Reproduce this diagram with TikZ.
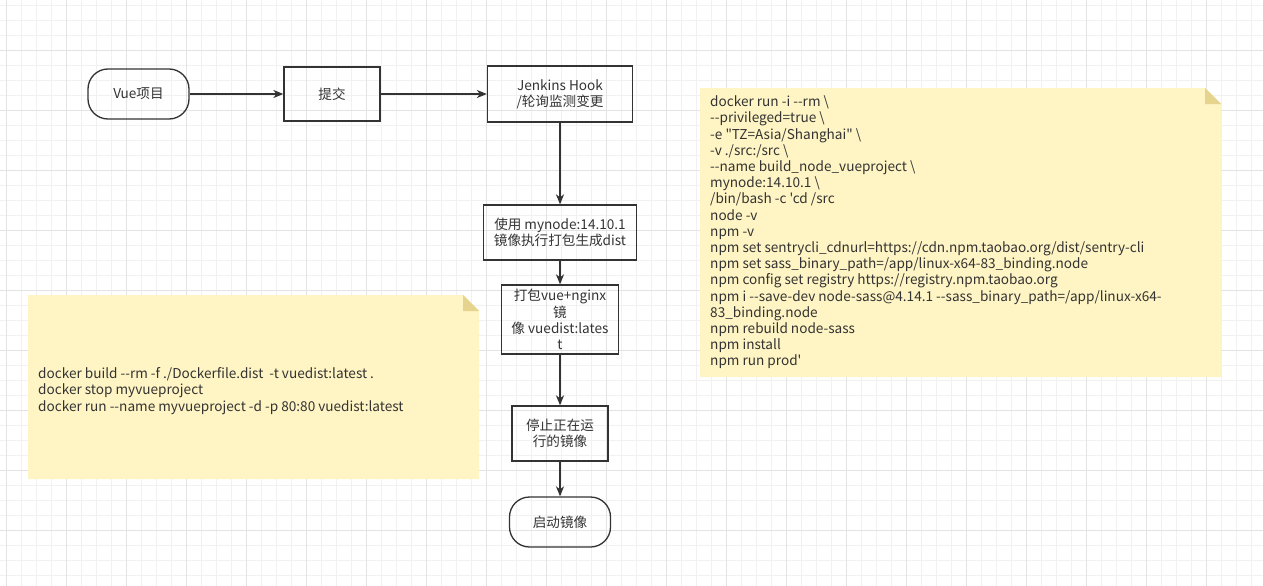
\documentclass[tikz,border=0pt]{standalone}
\usepackage{fontspec}
\setmainfont{Noto Sans CJK SC}[Ligatures=TeXOff]
\usetikzlibrary{positioning}
\usetikzlibrary{arrows.meta}
\definecolor{gridminor}{HTML}{F1F1F1}
\definecolor{gridmajor}{HTML}{E3E3E3}
\definecolor{notefill}{HTML}{FFF4C3}
\definecolor{notefold}{HTML}{E6D38E}
\definecolor{inkgray}{HTML}{333333}
\tikzstyle{line} = [draw=inkgray, line width=1.3pt, -{Stealth[length=10pt,width=8pt,inset=3pt]}]
\newcommand{\bsl}{\textbackslash}

\begin{document}
\begin{tikzpicture}[x=1pt, y=-1pt,
	every node/.style={font=\fontsize{13.6}{16.2}\selectfont, text=inkgray},
	box/.style={draw=inkgray, line width=1.3pt, rectangle, align=center, inner sep=0pt},
	term/.style={box, rounded corners=20pt},
	notetext/.style={align=left, anchor=west, inner sep=0pt}]
	\useasboundingbox (0,0) rectangle (1263,586);
	%% Grid
	\fill[white] (0,0) rectangle (1263,586);
	\foreach \gx in {0,...,84} \draw[gridminor, line width=0.8pt] (6.7+15*\gx,0) -- (6.7+15*\gx,586);
	\foreach \gy in {0,...,39} \draw[gridminor, line width=0.8pt] (0,5+15*\gy) -- (1263,5+15*\gy);
	\foreach \gx in {0,...,21} \draw[gridmajor, line width=0.8pt] (6.7+60*\gx,0) -- (6.7+60*\gx,586);
	\foreach \gy in {0,...,9} \draw[gridmajor, line width=0.8pt] (0,-10+60*\gy) -- (1263,-10+60*\gy);
	%% Notes
	\fill[notefill] (700,88) -- (1205,88) -- (1221,104) -- (1221,377) -- (700,377) -- cycle;
	\fill[notefold] (1205,88) -- (1221,104) -- (1205,104) -- cycle;
	\fill[notefill] (28,295) -- (463,295) -- (479,311) -- (479,479) -- (28,479) -- cycle;
	\fill[notefold] (463,295) -- (479,311) -- (463,311) -- cycle;
	\node [notetext] at (710,232.5) (RunNote) {docker run -i --rm \bsl\\
		--privileged=true \bsl\\
		-e "TZ=Asia/Shanghai" \bsl\\
		-v ./src:/src \bsl\\
		--name build\_node\_vueproject \bsl\\
		mynode:14.10.1 \bsl\\
		/bin/bash -c 'cd /src\\
		node -v\\
		npm -v\\
		npm set sentrycli\_cdnurl=https://cdn.npm.taobao.org/dist/sentry-cli\\
		npm set sass\_binary\_path=/app/linux-x64-83\_binding.node\\
		npm config set registry https://registry.npm.taobao.org\\
		npm i --save-dev node-sass@4.14.1 --sass\_binary\_path=/app/linux-x64-\\
		83\_binding.node\\
		npm rebuild node-sass\\
		npm install\\
		npm run prod'};
	\node [notetext] at (38,391) (DeployNote) {docker build --rm -f ./Dockerfile.dist \ -t vuedist:latest .\\
		docker stop myvueproject\\
		docker run --name myvueproject -d -p 80:80 vuedist:latest};
	%% Steps
	\node [term, minimum width=101pt, minimum height=50pt] at (138.5,94) (Vue) {Vue项目};
	\node [box, minimum width=96pt, minimum height=54pt] at (332,94) (Commit) {提交};
	\node [box, minimum width=145pt, minimum height=56pt] at (560,94) (Hook) {Jenkins Hook\\/轮询监测变更};
	\node [box, minimum width=153pt, minimum height=55pt] at (560,232.5) (Build) {使用 mynode:14.10.1\\镜像执行打包生成dist};
	\node [box, minimum width=117pt, minimum height=69pt] at (560,319.5) (Image) {打包vue+nginx\\镜\\像 vuedist:lates\\t};
	\node [box, minimum width=96pt, minimum height=55pt] at (560,433.5) (Stop) {停止正在运\\行的镜像};
	\node [term, minimum width=101pt, minimum height=50pt] at (560,522) (Start) {启动镜像};
	%% Flows
	\path [line] (Vue) -- (Commit);
	\path [line] (Commit) -- (Hook);
	\path [line] (Hook) -- (Build);
	\path [line] (Build) -- (Image);
	\path [line] (Image) -- (Stop);
	\path [line] (Stop) -- (Start);
\end{tikzpicture}
\end{document}
